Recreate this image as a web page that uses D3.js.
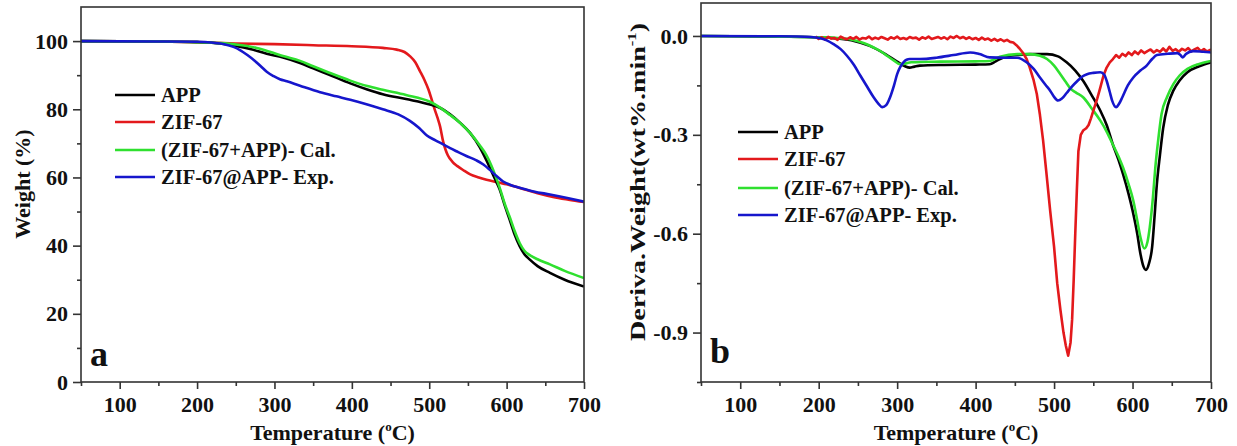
<!DOCTYPE html>
<html>
<head>
<meta charset="utf-8">
<script src="https://cdn.jsdelivr.net/npm/d3@7"></script>
<style>
  body { margin: 0; background: #fff; }
  svg text { font-family: "Liberation Serif", "Times New Roman", serif; font-weight: bold; fill: #111; }
</style>
</head>
<body>
<div id="chart"></div>
<script>

// ---- data ----
const seriesNames = ["APP", "ZIF-67", "(ZIF-67+APP)- Cal.", "ZIF-67@APP- Exp."];
const seriesColors = ["#000000", "#e3191c", "#2fe02f", "#1616cc"];

const xTicks = [100, 200, 300, 400, 500, 600, 700];
const tgaTicks = [0, 20, 40, 60, 80, 100];
const dtgTicks = [0, -0.3, -0.6, -0.9];

// TGA (temperature, weight %)
const tgaAPP = [[50,100],[150,99.9],[200,99.7],[230,99.3],[250,98.6],[270,97.6],[290,96.3],[311,95.2],[333,93.6],[350,92],[370,90.2],[398,87.6],[420,85.8],[440,84.4],[470,83],[501,81.4],[515,80.3],[527,78.5],[540,76],[553,73],[565,69],[574,65],[583,60.5],[591,56.5],[598,51.5],[604,47.6],[610,43.5],[617,39.8],[623,37.5],[630,35.9],[640,34],[656,32],[675,30],[700,28]];
const tgaZIF = [[50,100],[150,99.9],[200,99.7],[250,99.3],[300,99.1],[350,98.8],[400,98.5],[440,98],[458,97.5],[468,96.8],[475,95.6],[482,93.8],[488,91.2],[494,88.5],[499,85.8],[503,83],[507,80],[511,77.3],[514,75],[518,70.5],[521,68.2],[524,66.5],[530,64.6],[536,63.4],[545,62],[553,60.9],[564,60],[574,59.3],[590,58.5],[600,58],[613,57.2],[626,56.3],[640,55.4],[660,54.3],[680,53.5],[700,52.8]];
const tgaCal = [[50,100],[150,99.9],[200,99.7],[230,99.4],[250,99],[277,98],[295,96.8],[311,95.6],[333,94.2],[350,92.6],[370,90.8],[398,88.4],[420,86.8],[440,85.7],[470,84.2],[501,82.2],[514,80.5],[527,78.3],[540,76],[553,73],[565,69.5],[574,66.5],[583,62],[591,57],[598,52],[604,48.4],[610,44.5],[617,40.7],[623,38.5],[630,37.2],[640,36],[656,34.5],[675,32.6],[700,30.5]];
const tgaExp = [[50,100],[150,99.9],[200,99.8],[221,99.5],[235,99.1],[247,98.3],[256,97.3],[265,95.9],[274,94.3],[282,92.7],[290,91],[299,89.7],[307,88.8],[316,88.2],[333,86.9],[359,85],[380,83.8],[398,82.8],[420,81.4],[440,80],[460,78.5],[475,76.6],[487,74.5],[497,72.3],[508,70.9],[518,69.7],[527,68.6],[536,67.6],[548,66.3],[561,65],[570,63.8],[578,62.3],[587,60.4],[595,58.9],[605,57.8],[617,57],[635,55.9],[656,55],[680,53.9],[700,52.9]];

// DTG (temperature, wt%/min)
const dtgAPP = [[50,0],[150,-0.002],[200,-0.004],[225,-0.008],[245,-0.015],[265,-0.03],[285,-0.055],[300,-0.078],[310,-0.092],[316,-0.096],[322,-0.093],[329,-0.09],[360,-0.088],[400,-0.087],[418,-0.086],[425,-0.078],[431,-0.07],[440,-0.062],[453,-0.058],[470,-0.055],[491,-0.055],[505,-0.062],[516,-0.08],[527,-0.105],[537,-0.136],[548,-0.18],[559,-0.227],[567,-0.27],[575,-0.33],[582,-0.375],[588,-0.42],[595,-0.48],[601,-0.54],[606,-0.6],[610,-0.66],[614,-0.7],[617,-0.71],[621,-0.69],[625,-0.64],[628,-0.55],[631,-0.45],[635,-0.36],[639,-0.28],[645,-0.21],[652,-0.166],[660,-0.135],[670,-0.11],[685,-0.092],[700,-0.08]];
const dtgZIF = [[196,-0.002],[200,-0.009],[204,-0.004],[208,-0.011],[212,-0.003],[216,-0.008],[220,-0.006],[224,-0.012],[228,-0.002],[232,-0.007],[236,-0.01],[240,-0.004],[244,-0.009],[248,-0.003],[252,-0.011],[256,-0.006],[260,-0.008],[264,-0.002],[268,-0.01],[272,-0.005],[276,-0.009],[280,-0.003],[284,-0.007],[288,-0.011],[292,-0.004],[296,-0.008],[300,-0.002],[304,-0.009],[308,-0.006],[312,-0.01],[316,-0.003],[320,-0.007],[324,-0.005],[328,-0.011],[332,-0.004],[336,-0.008],[340,-0.002],[344,-0.009],[348,-0.006],[352,-0.003],[356,-0.008],[360,-0.004],[364,-0.01],[368,-0.002],[372,-0.006],[376,0],[380,-0.007],[384,-0.003],[388,-0.009],[392,-0.004],[396,-0.01],[400,-0.006],[404,-0.012],[408,-0.005],[412,-0.011],[416,-0.008],[420,-0.014],[424,-0.009],[428,-0.015],[432,-0.01],[436,-0.016],[440,-0.012],[444,-0.018],[448,-0.02],[452,-0.028],[456,-0.038],[460,-0.05],[465,-0.07],[469,-0.096],[474,-0.135],[478,-0.176],[482,-0.24],[486,-0.317],[490,-0.41],[495,-0.53],[500,-0.64],[504,-0.75],[508,-0.83],[512,-0.9],[515,-0.94],[518,-0.97],[521,-0.93],[523,-0.86],[525,-0.74],[527,-0.6],[529,-0.47],[531,-0.35],[534,-0.3],[537,-0.287],[541,-0.28],[544,-0.27],[547,-0.25],[550,-0.227],[555,-0.19],[559,-0.156],[563,-0.12],[567,-0.096],[571,-0.08],[575,-0.07],[579,-0.058],[583,-0.066],[587,-0.054],[591,-0.061],[595,-0.05],[599,-0.058],[603,-0.047],[607,-0.055],[611,-0.044],[615,-0.052],[619,-0.046],[623,-0.041],[627,-0.05],[631,-0.043],[635,-0.048],[639,-0.038],[643,-0.047],[647,-0.033],[651,-0.045],[655,-0.04],[659,-0.048],[663,-0.039],[667,-0.044],[671,-0.037],[675,-0.047],[679,-0.041],[683,-0.036],[687,-0.046],[691,-0.04],[695,-0.047],[699,-0.042],[700,-0.044]];
const dtgCal = [[50,0],[150,-0.002],[200,-0.004],[224,-0.006],[244,-0.012],[258,-0.022],[270,-0.035],[280,-0.048],[287,-0.06],[296,-0.075],[304,-0.086],[310,-0.084],[318,-0.08],[355,-0.078],[400,-0.077],[418,-0.076],[431,-0.063],[453,-0.055],[469,-0.055],[482,-0.06],[491,-0.07],[500,-0.09],[508,-0.116],[515,-0.14],[521,-0.16],[528,-0.172],[537,-0.186],[548,-0.22],[559,-0.257],[567,-0.29],[575,-0.33],[582,-0.365],[588,-0.4],[595,-0.45],[601,-0.5],[606,-0.56],[610,-0.61],[615,-0.645],[619,-0.625],[622,-0.58],[626,-0.49],[629,-0.4],[633,-0.31],[637,-0.237],[644,-0.185],[652,-0.146],[660,-0.12],[670,-0.1],[685,-0.085],[700,-0.076]];
const dtgExp = [[50,0],[150,-0.001],[190,-0.003],[202,-0.007],[211,-0.014],[219,-0.025],[228,-0.04],[236,-0.06],[245,-0.088],[253,-0.12],[262,-0.155],[270,-0.186],[276,-0.205],[281,-0.216],[286,-0.21],[291,-0.186],[296,-0.15],[300,-0.116],[304,-0.094],[308,-0.08],[312,-0.072],[316,-0.07],[329,-0.07],[350,-0.066],[372,-0.058],[393,-0.05],[405,-0.055],[418,-0.065],[440,-0.066],[453,-0.066],[465,-0.08],[474,-0.1],[482,-0.126],[489,-0.148],[495,-0.166],[500,-0.185],[505,-0.196],[510,-0.19],[516,-0.173],[523,-0.153],[530,-0.136],[536,-0.123],[542,-0.116],[550,-0.112],[559,-0.11],[564,-0.118],[567,-0.136],[571,-0.17],[574,-0.196],[579,-0.216],[583,-0.205],[587,-0.186],[594,-0.15],[601,-0.126],[610,-0.105],[618,-0.09],[625,-0.07],[631,-0.058],[645,-0.054],[657,-0.052],[661,-0.058],[664,-0.065],[668,-0.055],[677,-0.046],[690,-0.048],[700,-0.05]];

const width = 1237;
const height = 446;

const svg = d3.select("#chart").append("svg")
    .attr("width", width)
    .attr("height", height);

// draws one panel: box, axes, curves, legend, letter
function drawPanel(p) {
  const x = d3.scaleLinear().domain([50, 700]).range([p.left, p.right]);
  const y = d3.scaleLinear().domain(p.yDomain).range([p.bottom, p.top]);

  const g = svg.append("g");

  // clip
  g.append("clipPath").attr("id", p.id + "clip")
    .append("rect")
    .attr("x", p.left).attr("y", p.top)
    .attr("width", p.right - p.left).attr("height", p.bottom - p.top);

  // curves (the noisy ZIF-67 DTG trace stays straight-segmented)
  const smooth = d3.line().x(d => x(d[0])).y(d => y(d[1])).curve(d3.curveMonotoneX);
  const raw = d3.line().x(d => x(d[0])).y(d => y(d[1]));

  const lines = g.append("g").attr("clip-path", "url(#" + p.id + "clip)");
  p.order.forEach(i => {
    lines.append("path")
      .datum(p.series[i])
      .attr("fill", "none")
      .attr("stroke", seriesColors[i])
      .attr("stroke-width", 2.6)
      .attr("stroke-linejoin", "round")
      .attr("d", p.rawIdx === i ? raw : smooth);
  });

  // box
  g.append("rect")
    .attr("x", p.left).attr("y", p.top)
    .attr("width", p.right - p.left).attr("height", p.bottom - p.top)
    .attr("fill", "none").attr("stroke", "#333").attr("stroke-width", 1.6);

  // x axis, major + minor
  const xMinor = d3.range(50, 701, 50).filter(v => v % 100 !== 0);
  g.append("g")
    .attr("transform", "translate(0," + p.bottom + ")")
    .call(d3.axisBottom(x).tickValues(xMinor).tickSize(4).tickFormat(""))
    .call(a => a.select(".domain").remove())
    .call(a => a.selectAll("line").attr("stroke", "#333").attr("stroke-width", 1.6));
  g.append("g")
    .attr("transform", "translate(0," + p.bottom + ")")
    .call(d3.axisBottom(x).tickValues(xTicks).tickSize(7).tickPadding(7))
    .call(a => a.select(".domain").remove())
    .call(a => a.selectAll("line").attr("stroke", "#333").attr("stroke-width", 1.6))
    .call(a => a.selectAll("text").attr("font-size", 22).attr("fill", "#111"));

  // y axis
  g.append("g")
    .attr("transform", "translate(" + p.left + ",0)")
    .call(d3.axisLeft(y).tickValues(p.yMinor).tickSize(4).tickFormat(""))
    .call(a => a.select(".domain").remove())
    .call(a => a.selectAll("line").attr("stroke", "#333").attr("stroke-width", 1.6));
  g.append("g")
    .attr("transform", "translate(" + p.left + ",0)")
    .call(d3.axisLeft(y).tickValues(p.yTicks).tickSize(8).tickPadding(5).tickFormat(p.fmt))
    .call(a => a.select(".domain").remove())
    .call(a => a.selectAll("line").attr("stroke", "#333").attr("stroke-width", 1.6))
    .call(a => a.selectAll("text").attr("font-size", 22).attr("fill", "#111"));

  // x title
  const xt = g.append("text")
    .attr("x", (p.left + p.right) / 2).attr("y", 440)
    .attr("text-anchor", "middle").attr("font-size", 22);
  xt.append("tspan").text("Temperature (");
  xt.append("tspan").attr("font-size", 13).attr("dy", -9).text("o");
  xt.append("tspan").attr("dy", 9).text("C)");

  // y title
  const yt = g.append("text")
    .attr("transform", "translate(" + p.yTitleX + "," + p.yTitleY + ") rotate(-90)")
    .attr("text-anchor", "middle").attr("font-size", 22);
  if (p.yTitleLen) yt.attr("textLength", p.yTitleLen).attr("lengthAdjust", "spacingAndGlyphs");
  yt.append("tspan").text(p.yTitle);
  if (p.yTitleSup) {
    yt.append("tspan").attr("font-size", 13).attr("dy", -9).text(p.yTitleSup);
    yt.append("tspan").attr("dy", 9).text(")");
  }

  // legend
  seriesNames.forEach((name, i) => {
    const cy = p.legY[i];
    g.append("line")
      .attr("x1", p.legX).attr("x2", p.legX + 40)
      .attr("y1", cy).attr("y2", cy)
      .attr("stroke", seriesColors[i]).attr("stroke-width", 2.6);
    g.append("text")
      .attr("x", p.legX + 46).attr("y", cy + 7)
      .attr("font-size", 20.5)
      .text(name);
  });

  // panel letter
  g.append("text")
    .attr("x", p.letterX).attr("y", p.letterY)
    .attr("font-size", 36)
    .text(p.letter);
}

drawPanel({
  id: "a",
  left: 81, right: 584, top: 7, bottom: 382,
  yDomain: [0, 110],
  yTicks: tgaTicks,
  yMinor: [10, 30, 50, 70, 90],
  fmt: d3.format("d"),
  series: [tgaAPP, tgaZIF, tgaCal, tgaExp],
  order: [1, 0, 2, 3],
  rawIdx: -1,
  yTitle: "Weight (%)", yTitleSup: null,
  yTitleX: 30, yTitleY: 184,
  legX: 115, legY: [95, 122, 150, 177],
  letter: "a", letterX: 90, letterY: 366
});

drawPanel({
  id: "b",
  left: 701, right: 1211, top: 3, bottom: 382,
  yDomain: [-1.05, 0.1],
  yTicks: dtgTicks,
  yMinor: [-0.15, -0.45, -0.75, -1.05],
  fmt: d => d3.format(".1f")(d).replace("−", "-"),
  series: [dtgAPP, dtgZIF, dtgCal, dtgExp],
  order: [0, 2, 1, 3],
  rawIdx: 1,
  yTitle: "Deriva.Weight(wt%.min", yTitleSup: "-1", yTitleLen: 318,
  yTitleX: 645, yTitleY: 182,
  legX: 738, legY: [132, 159, 188, 215],
  letter: "b", letterX: 710, letterY: 363
});

</script>
</body>
</html>
